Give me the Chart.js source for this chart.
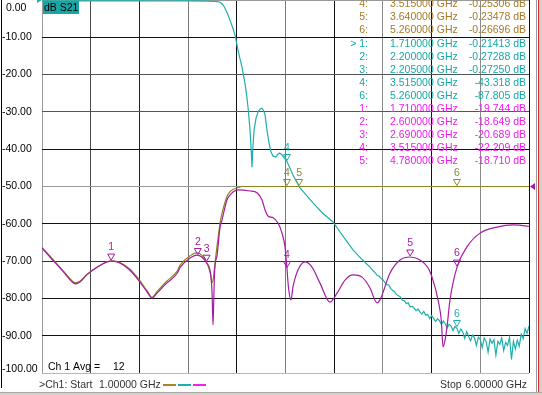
<!DOCTYPE html>
<html>
<head>
<meta charset="utf-8">
<title>dB S21</title>
<script src="https://cdn.jsdelivr.net/npm/chart.js@4.4.1/dist/chart.umd.min.js"></script>
<style>
  html, body { margin: 0; padding: 0; background: #fff; }
  #wrap { position: relative; width: 542px; height: 395px; overflow: hidden; background: #fff; }
  #vna { position: absolute; left: 0; top: 0; }
  .edge { position: absolute; }
</style>
</head>
<body>
<div id="wrap">
  <canvas id="vna" width="542" height="395"></canvas>
  <!-- window chrome bits round the plot -->
  <div class="edge" style="left:1px;top:0;width:1px;height:388px;background:#000"></div>
  <div class="edge" style="left:536px;top:0;width:1px;height:392px;background:#9a9a9a"></div>
  <div class="edge" style="left:538px;top:0;width:1px;height:392px;background:#d03030"></div>
  <div class="edge" style="left:539px;top:0;width:3px;height:395px;background:#d4d0c8"></div>
  <div class="edge" style="left:0;top:392px;width:542px;height:3px;background:#d4d0c8;border-top:1px solid #a8a8a8"></div>
</div>

<script>
/* ── Sweep settings ──────────────────────────────────────────────────────── */
const freqStart = 1.0;      // GHz
const freqStop = 6.0;
const freqStep = 0.5;
const dbTop = 0;
const dbBottom = -100;
const dbStep = 10;

/* ── Traces ──────────────────────────────────────────────────────────────── */
const magentaFreq = [
    1.00, 1.11, 1.22, 1.31, 1.34, 1.39, 1.46, 1.57, 1.67, 1.72, 1.80, 1.90, 1.99,
    2.08, 2.13, 2.18, 2.28, 2.39, 2.42, 2.52, 2.59, 2.64, 2.69, 2.73, 2.745, 2.752,
    2.756, 2.762, 2.770, 2.780, 2.797, 2.828, 2.848, 2.899, 2.930, 2.961, 3.012,
    3.136, 3.207, 3.259, 3.290, 3.320, 3.372, 3.423, 3.464, 3.495, 3.515, 3.530,
    3.556, 3.577, 3.628, 3.700, 3.772, 3.854, 3.957, 4.029, 4.111, 4.193, 4.285,
    4.368, 4.439, 4.470, 4.573, 4.676, 4.778, 4.881, 4.963, 5.014, 5.066, 5.100,
    5.117, 5.138, 5.158, 5.189, 5.261, 5.363, 5.497, 5.671, 5.836, 5.979, 6.00
];
const magentaDb = [
    -66.5, -69.7, -72.9, -75.6, -76.1, -75.6, -73.7, -71.6, -70.2, -70.0, -70.5, -72.4, -75.1,
    -78.3, -79.9, -78.6, -75.9, -73.2, -71.6, -69.2, -68.4, -68.9, -70.5, -73.2, -78.0, -84.0,
    -87.1, -82.0, -74.0, -70.5, -68.5, -60.9, -59.0, -53.6, -52.3, -51.5, -50.9,
    -51.2, -51.7, -53.6, -56.3, -57.9, -58.4, -59.8, -62.5, -66.2, -72.0, -76.9,
    -80.4, -76.9, -72.4, -70.2, -71.6, -75.9, -81.0, -78.6, -75.1, -73.7, -74.3,
    -77.2, -81.2, -80.4, -73.2, -69.7, -68.9, -69.7, -71.8, -75.1, -80.4, -86.0,
    -93.0, -91.2, -87.7, -80.4, -71.6, -66.2, -62.5, -60.9, -60.3, -60.6, -60.7
];

const oliveFreq = [
    1.00, 1.11, 1.22, 1.31, 1.34, 1.39, 1.46, 1.57, 1.67, 1.72, 1.80, 1.90, 1.99,
    2.08, 2.13, 2.18, 2.28, 2.39, 2.42, 2.52, 2.59, 2.64, 2.69, 2.73, 2.745, 2.760,
    2.776, 2.797, 2.830, 2.850, 2.900, 2.930, 2.960, 3.010, 3.060, 6.00
];
const oliveDb = [
    -66.3, -69.5, -72.7, -75.3, -75.8, -75.4, -73.6, -71.5, -70.1, -69.9, -70.4, -72.1, -74.7,
    -78.0, -79.7, -78.2, -75.4, -72.6, -71.0, -68.6, -67.8, -68.4, -70.3, -73.5, -75.8, -74.5,
    -70.5, -66.0, -59.5, -57.0, -52.6, -51.4, -50.8, -50.3, -50.0, -50.0
];

const cyanFreq = [
    1.00, 1.40, 1.71, 2.00, 2.20, 2.50, 2.70, 2.776, 2.80, 2.828, 2.855, 2.879, 2.905,
    2.930, 2.956, 2.982, 3.012, 3.033, 3.053, 3.084, 3.100, 3.115, 3.136, 3.148, 3.156,
    3.164, 3.177, 3.198, 3.218, 3.240, 3.259, 3.275, 3.290, 3.310, 3.330, 3.350, 3.370,
    3.400, 3.420, 3.440, 3.460, 3.480, 3.515, 3.550, 3.577, 3.615, 3.649, 3.700, 3.782,
    3.880, 3.988, 4.060, 4.120, 4.193, 4.250, 4.300, 4.368,
    4.40, 4.42, 4.44, 4.46, 4.48, 4.50, 4.52, 4.54, 4.56, 4.58, 4.60, 4.62, 4.64, 4.66,
    4.68, 4.70, 4.72, 4.74, 4.76, 4.78, 4.80, 4.82, 4.84, 4.86, 4.88, 4.90, 4.92, 4.94,
    4.96, 4.98, 5.00, 5.02, 5.04, 5.06, 5.08, 5.10, 5.12, 5.14, 5.16, 5.18, 5.20, 5.22,
    5.24, 5.26, 5.28, 5.30, 5.32, 5.34, 5.36, 5.38, 5.40, 5.42, 5.44, 5.46, 5.48, 5.50,
    5.52, 5.54, 5.56, 5.58, 5.60, 5.62, 5.64, 5.66, 5.68, 5.70, 5.72, 5.74, 5.76, 5.78,
    5.80, 5.82, 5.84, 5.86, 5.88, 5.90, 5.92, 5.94, 5.96, 5.98, 6.00
];
const cyanDb = [
    -0.20, -0.22, -0.21, -0.24, -0.27, -0.26, -0.30, -0.40, -0.45, -0.6, -1.2, -2.2, -3.7,
    -5.4, -7.3, -9.4, -13.4, -15.8, -18.0, -22.3, -25.3, -28.7, -34.9, -40.5, -44.8,
    -40.0, -34.9, -31.6, -30.0, -29.2, -29.0, -29.6, -30.8, -34.9, -38.3, -40.6, -41.8,
    -42.1, -41.4, -41.0, -41.4, -42.1, -43.3, -45.3, -46.9, -48.8, -50.4, -51.9, -54.4,
    -57.1, -59.5, -62.2, -64.4, -67.0, -68.6, -69.9, -71.6,
    -72.6, -73.1, -73.8, -74.0, -74.6, -75.0, -75.7, -76.3, -76.4, -77.3, -77.9, -78.2, -79.0, -79.3,
    -79.6, -80.5, -80.6, -81.4, -81.2, -82.3, -82.1, -82.6, -83.3, -82.9, -83.6, -84.2, -83.5, -84.5,
    -84.3, -85.4, -84.6, -85.3, -86.2, -85.5, -85.9, -87.0, -86.1, -86.8, -87.9, -86.9, -87.4, -88.6,
    -87.5, -88.0, -89.4, -88.2, -89.0, -90.7, -88.9, -90.2, -91.4, -89.8, -90.5, -92.6, -90.4, -91.0,
    -93.2, -90.6, -91.6, -94.4, -90.9, -92.0, -91.1, -95.2, -91.5, -92.3, -90.6, -94.0, -91.8, -92.6,
    -90.4, -96.4, -91.5, -93.6, -91.2, -92.8, -89.6, -90.8, -88.1, -89.4, -87.4
];

/* ── Markers drawn on the traces ─────────────────────────────────────────── */
const magMarkIds = ['1', '2', '3', '4', '5', '6'];
const magMarkFreq = [1.71, 2.60, 2.69, 3.515, 4.78, 5.26];
const magMarkDb = [-70.0, -68.5, -70.3, -72.0, -68.9, -71.6];

const oliveMarkIds = ['4', '5', '6'];
const oliveMarkFreq = [3.515, 3.64, 5.26];
const oliveMarkDb = [-50.0, -50.0, -50.0];

const cyanMarkIds = ['4', '6'];
const cyanMarkFreq = [3.515, 5.26];
const cyanMarkDb = [-43.3, -87.8];

/* ── Marker readout table (top right) ────────────────────────────────────── */
const tableIds = ['4:', '5:', '6:', '> 1:', '2:', '3:', '4:', '6:', '1:', '2:', '3:', '4:', '5:'];
const tableFreqs = [
    '3.515000 GHz', '3.640000 GHz', '5.260000 GHz', '1.710000 GHz', '2.200000 GHz',
    '2.205000 GHz', '3.515000 GHz', '5.260000 GHz', '1.710000 GHz', '2.600000 GHz',
    '2.690000 GHz', '3.515000 GHz', '4.780000 GHz'
];
const tableVals = [
    '-0.25306 dB', '-0.23478 dB', '-0.26696 dB', '-0.21413 dB', '-0.27288 dB',
    '-0.27250 dB', '-43.318 dB', '-87.805 dB', '-19.744 dB', '-18.649 dB',
    '-20.689 dB', '-22.209 dB', '-18.710 dB'
];
const tableTrace = ['olive', 'olive', 'olive', 'cyan', 'cyan', 'cyan', 'cyan', 'cyan',
    'magenta', 'magenta', 'magenta', 'magenta', 'magenta'];

/* ── Colours ─────────────────────────────────────────────────────────────── */
const COL = {
    olive: '#87871c',
    oliveMark: '#8c8c38',
    oliveText: '#a47a26',
    cyan: '#1eaeae',
    cyanText: '#16a8a8',
    magenta: '#a51ca5',
    magentaText: '#f01cf0',
};

// the screenshot's grid lines come out in different greys (scaled bitmap)
const xGridCols = ['#9a9a9a', '#4a4a4a', '#222', '#7a7a7a', '#111', '#7a7a7a', '#111', '#8a8a8a', '#111', '#8a8a8a', '#111'];
const yGridCols = ['#b8b8b8', '#111', '#111', '#333', '#111', '#999', '#111', '#555', '#555', '#111', '#999'];

const FONT = '10.5px "Liberation Sans", Arial, sans-serif';

function pairs(xs, ys) {
    return xs.map((x, i) => ({ x: x, y: ys[i] }));
}

function drawMarker(ctx, x, y, id, color) {
    ctx.strokeStyle = color;
    ctx.lineWidth = 1;
    ctx.beginPath();
    ctx.moveTo(x, y - 1);
    ctx.lineTo(x - 3.5, y - 7);
    ctx.lineTo(x + 3.5, y - 7);
    ctx.closePath();
    ctx.stroke();
    ctx.fillStyle = color;
    ctx.textAlign = 'center';
    ctx.textBaseline = 'middle';
    ctx.fillText(id, x, y - 13.5);
}

const decor = {
    id: 'vnaDecor',
    afterDraw(chart) {
        const ctx = chart.ctx;
        const xs = chart.scales.x;
        const ys = chart.scales.y;
        const area = chart.chartArea;
        ctx.save();
        ctx.font = FONT;

        // y tick labels
        ctx.fillStyle = '#000';
        ctx.textAlign = 'left';
        ctx.textBaseline = 'middle';
        ys.ticks.forEach(t => {
            const py = Math.min(Math.max(ys.getPixelForValue(t.value), 8), 369);
            const txt = t.value.toFixed(2);
            ctx.fillText(txt, t.value === 0 ? 6 : 2, py);
        });

        // markers on the traces
        magMarkIds.forEach((id, i) =>
            drawMarker(ctx, xs.getPixelForValue(magMarkFreq[i]), ys.getPixelForValue(magMarkDb[i]), id, COL.magenta));
        oliveMarkIds.forEach((id, i) =>
            drawMarker(ctx, xs.getPixelForValue(oliveMarkFreq[i]), ys.getPixelForValue(oliveMarkDb[i]), id, COL.oliveMark));
        cyanMarkIds.forEach((id, i) =>
            drawMarker(ctx, xs.getPixelForValue(cyanMarkFreq[i]), ys.getPixelForValue(cyanMarkDb[i]), id, COL.cyan));

        // marker readout
        const textCol = { olive: COL.oliveText, cyan: COL.cyanText, magenta: COL.magentaText };
        tableIds.forEach((id, i) => {
            const ty = 4.5 + i * 13.05;
            ctx.fillStyle = textCol[tableTrace[i]];
            ctx.textAlign = 'right';
            ctx.fillText(id, 368, ty);
            ctx.textAlign = 'left';
            ctx.fillText(tableFreqs[i], 390, ty);
            ctx.textAlign = 'right';
            ctx.fillText(tableVals[i], 526, ty);
        });

        // trace title box
        ctx.fillStyle = '#1aa5a5';
        ctx.fillRect(area.left + 1, 1, 36, 13);
        ctx.fillStyle = '#000';
        ctx.textAlign = 'left';
        ctx.fillText('dB S21', area.left + 2, 8);

        // reference level arrows
        const refY = ys.getPixelForValue(-50);
        ctx.fillStyle = COL.magenta;
        ctx.beginPath();
        ctx.moveTo(area.right + 1, refY);
        ctx.lineTo(area.right + 6, refY - 3.5);
        ctx.lineTo(area.right + 6, refY + 3.5);
        ctx.closePath();
        ctx.fill();
        ctx.fillStyle = COL.cyan;
        ctx.beginPath();
        ctx.moveTo(area.left - 5, 0);
        ctx.lineTo(area.left, 0);
        ctx.lineTo(area.left - 5, 3);
        ctx.closePath();
        ctx.fill();

        // averaging note inside the grid
        ctx.fillStyle = '#000';
        ctx.fillText('Ch 1 Avg =', 48, 367);
        ctx.fillText('12', 113, 367);

        // status strip under the grid
        ctx.fillStyle = '#333';
        ctx.fillText('>Ch1: Start', 39, 385);
        ctx.fillText('1.00000 GHz', 99, 385);
        ctx.fillText('Stop', 440, 385);
        ctx.textAlign = 'right';
        ctx.fillText('6.00000 GHz', 527, 385);

        ctx.lineWidth = 2;
        [['#b0802a', 163, 176], ['#1eaeae', 178, 191], ['#f020f0', 193, 206]].forEach(s => {
            ctx.strokeStyle = s[0];
            ctx.beginPath();
            ctx.moveTo(s[1], 385);
            ctx.lineTo(s[2], 385);
            ctx.stroke();
        });
        ctx.restore();
    }
};

new Chart(document.getElementById('vna'), {
    type: 'line',
    data: {
        datasets: [
            {
                label: 'magenta',
                data: pairs(magentaFreq, magentaDb),
                borderColor: COL.magenta,
                borderWidth: 1.2,
                pointRadius: 0,
                cubicInterpolationMode: 'monotone',
            },
            {
                label: 'S21',
                data: pairs(cyanFreq, cyanDb),
                borderColor: COL.cyan,
                borderWidth: 1.2,
                pointRadius: 0,
                tension: 0,
            },
            {
                label: 'olive',
                data: pairs(oliveFreq, oliveDb),
                borderColor: COL.olive,
                borderWidth: 1.2,
                pointRadius: 0,
                cubicInterpolationMode: 'monotone',
            }
        ]
    },
    options: {
        responsive: false,
        animation: false,
        devicePixelRatio: 1,
        parsing: false,
        layout: { padding: { left: 0, right: 13, top: 0, bottom: 0 } },
        plugins: {
            legend: { display: false },
            tooltip: { enabled: false },
        },
        scales: {
            x: {
                type: 'linear',
                min: freqStart,
                max: freqStop,
                ticks: { display: false, stepSize: freqStep },
                grid: { color: c => xGridCols[c.index] || '#111', lineWidth: 1, drawTicks: false },
                border: { display: false },
                afterFit: s => { s.height = 22; s.paddingLeft = 0; s.paddingRight = 0; },
            },
            y: {
                type: 'linear',
                min: dbBottom,
                max: dbTop,
                ticks: { display: false, stepSize: dbStep },
                grid: { color: c => yGridCols[c.index] || '#111', lineWidth: 1, drawTicks: false },
                border: { display: false },
                afterFit: s => { s.width = 42; s.paddingTop = 0; s.paddingBottom = 0; },
            }
        }
    },
    plugins: [decor]
});
</script>
</body>
</html>
